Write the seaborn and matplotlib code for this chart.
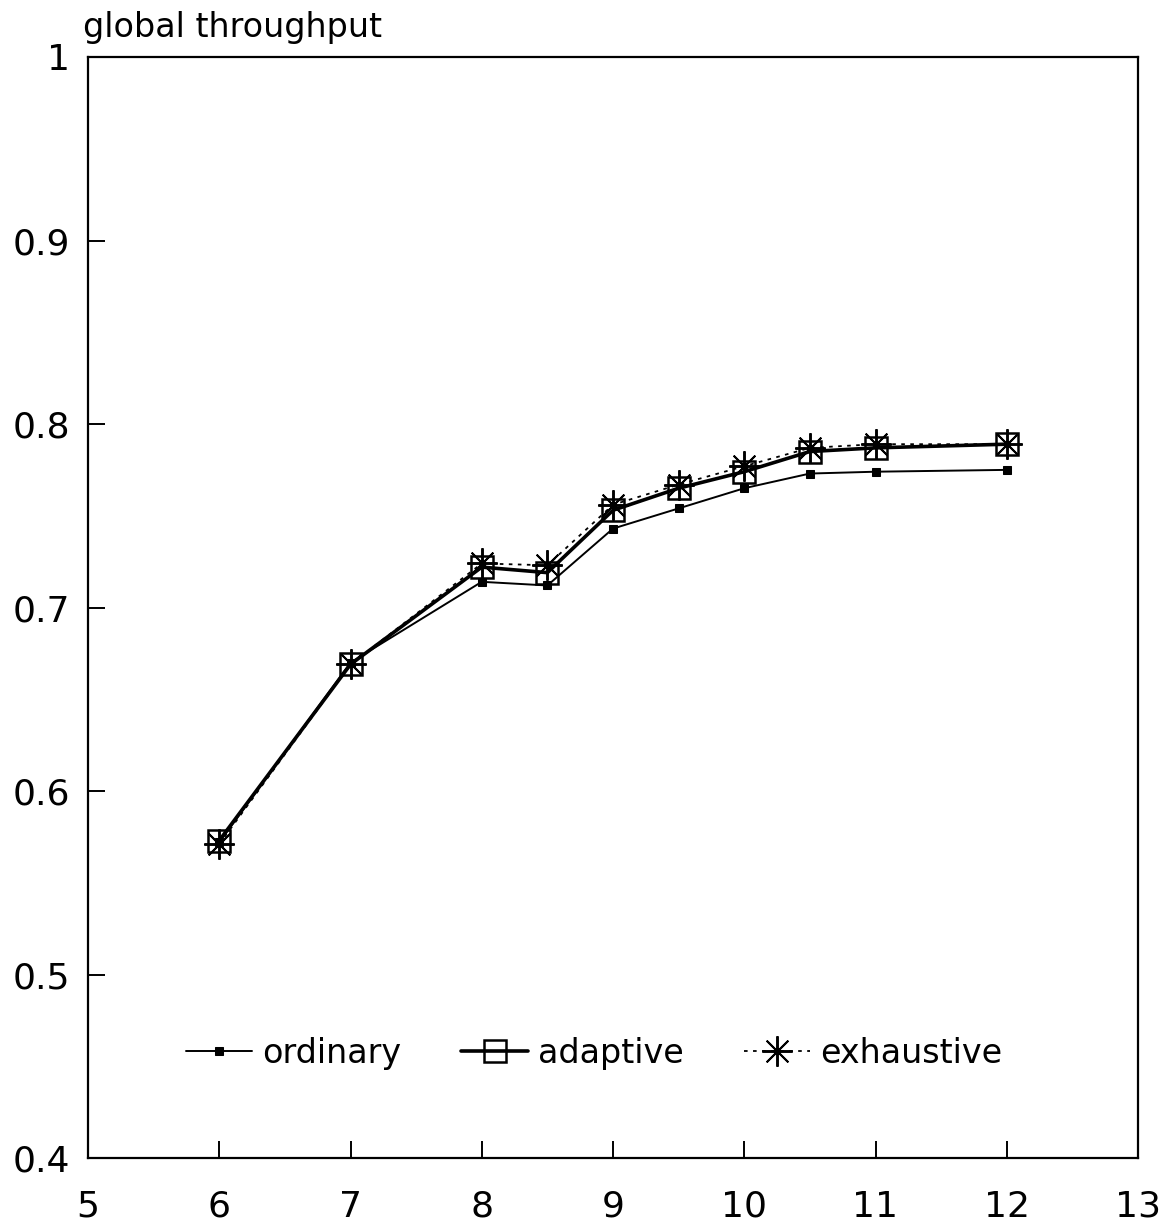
import matplotlib
matplotlib.use("Agg")
import matplotlib.pyplot as plt
import seaborn as sns
import pandas as pd

x = [6, 7, 8, 8.5, 9, 9.5, 10, 10.5, 11, 12]
ordinary = [0.572, 0.670, 0.714, 0.712, 0.743, 0.754, 0.765, 0.773, 0.774, 0.775]
adaptive = [0.573, 0.669, 0.722, 0.719, 0.753, 0.765, 0.774, 0.785, 0.787, 0.789]
exhaustive = [0.571, 0.669, 0.724, 0.723, 0.756, 0.767, 0.777, 0.787, 0.789, 0.789]
x_ticks = [5, 6, 7, 8, 9, 10, 11, 12, 13]
y_ticks = [0.4, 0.5, 0.6, 0.7, 0.8, 0.9, 1.0]
y_tick_labels = ["0.4", "0.5", "0.6", "0.7", "0.8", "0.9", "1"]

sns.set_style("white")
plt.rcParams["font.family"] = ["DejaVu Sans"]
plt.rcParams["text.color"] = "black"
plt.rcParams["xtick.color"] = "black"
plt.rcParams["ytick.color"] = "black"

fig = plt.figure(figsize=(11.6, 12.24), dpi=100)
ax = fig.add_axes([88 / 1160, 1 - 1158 / 1224, 1050 / 1160, 1101 / 1224])

df = pd.DataFrame({"x": x, "ordinary": ordinary, "adaptive": adaptive, "exhaustive": exhaustive})

sns.lineplot(data=df, x="x", y="ordinary", ax=ax, color="black", lw=1.4,
             marker="s", markersize=6, markerfacecolor="black", markeredgecolor="black",
             label="ordinary")
sns.lineplot(data=df, x="x", y="adaptive", ax=ax, color="black", lw=2.6,
             marker="s", markersize=16, markerfacecolor="none", markeredgecolor="black",
             markeredgewidth=1.8, label="adaptive")
sns.lineplot(data=df, x="x", y="exhaustive", ax=ax, color="black", lw=1.3, ls=(0, (2, 3)),
             marker=(8, 2, 0), markersize=22, markeredgecolor="black",
             markeredgewidth=1.4, label="exhaustive")

ax.set_xlim(5, 13)
ax.set_ylim(0.4, 1.0)
ax.set_xticks(x_ticks)
ax.set_xticklabels([str(v) for v in x_ticks])
ax.set_yticks(y_ticks)
ax.set_yticklabels(y_tick_labels)
ax.tick_params(axis="both", direction="in", length=12, width=1.4, labelsize=26,
               color="black", labelcolor="black", bottom=True, left=True)
ax.tick_params(axis="x", pad=23)
ax.tick_params(axis="y", pad=13)
for s in ax.spines.values():
    s.set_color("black")
    s.set_linewidth(1.6)
ax.set_xlabel("")
ax.set_ylabel("")
fig.text(83 / 1160, 1 - 27 / 1224, "global throughput", fontsize=24, va="center", ha="left",
         color="black")

handles, labels = ax.get_legend_handles_labels()
leg = ax.legend(handles, labels, ncol=3, frameon=False, loc="center",
                bbox_to_anchor=(0.482, 0.095), fontsize=24, handlelength=2.0,
                columnspacing=1.8, handletextpad=0.3)
for t in leg.get_texts():
    t.set_color("black")

fig.savefig("out.png", dpi=100)
